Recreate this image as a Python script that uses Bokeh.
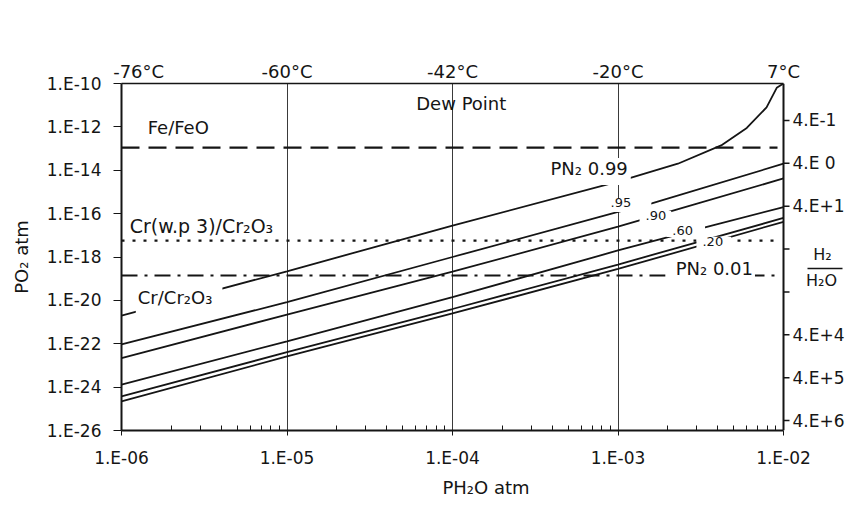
from bokeh.plotting import figure
from bokeh.models import FixedTicker, LogAxis, Range1d, Label, Span
from bokeh.core.properties import value
from bokeh.embed import file_html
from bokeh.resources import INLINE

# ---------------- data ----------------
x_ticks = [1e-6, 1e-5, 1e-4, 1e-3, 1e-2]
x_tick_labels = ["1.E-06", "1.E-05", "1.E-04", "1.E-03", "1.E-02"]
dew_point_labels = ["-76°C", "-60°C", "-42°C", "-20°C", "7°C"]
y_ticks = [1e-26, 1e-24, 1e-22, 1e-20, 1e-18, 1e-16, 1e-14, 1e-12, 1e-10]
y_tick_labels = ["1.E-26", "1.E-24", "1.E-22", "1.E-20", "1.E-18",
                 "1.E-16", "1.E-14", "1.E-12", "1.E-10"]
h2_h2o_ticks = [0.4, 4, 40, 400, 4000, 4e4, 4e5, 4e6]
h2_h2o_labels = ["4.E-1", "4.E 0", "4.E+1", "", "", "4.E+4", "4.E+5", "4.E+6"]

# PN2 iso-lines: PH2O (atm) vs PO2 (atm)
ph2o_099 = [1.0e-6, 1.0e-5, 1.0e-4, 1.0e-3, 2.3e-3, 4.2e-3, 6.0e-3, 7.9e-3, 9.1e-3, 1.0e-2]
po2_099 = [2.0e-21, 2.2e-19, 2.8e-17, 3.0e-15, 2.0e-14, 1.4e-13, 8.9e-13, 7.9e-12, 6.3e-11, 1.0e-10]
ph2o_095 = [1.0e-6, 1.0e-5, 1.0e-4, 1.0e-3, 1.6e-3, 1.0e-2]
po2_095 = [9.3e-23, 8.3e-21, 1.0e-18, 1.2e-16, 3.0e-16, 2.0e-14]
ph2o_090 = [1.0e-6, 1.0e-5, 1.0e-4, 1.0e-3, 2.1e-3, 1.0e-2]
po2_090 = [2.2e-23, 2.2e-21, 2.1e-19, 2.5e-17, 1.3e-16, 4.2e-15]
ph2o_060 = [1.0e-6, 1.0e-5, 1.0e-4, 1.0e-3, 3.4e-3, 1.0e-2]
po2_060 = [1.3e-24, 1.3e-22, 1.4e-20, 2.0e-18, 2.4e-17, 2.0e-16]
ph2o_020 = [1.0e-6, 1.0e-5, 1.0e-4, 1.0e-3, 1.0e-2]
po2_020 = [3.7e-25, 4.1e-23, 4.0e-21, 4.5e-19, 6.3e-17]
ph2o_001 = [1.0e-6, 1.0e-5, 1.0e-4, 1.0e-3, 1.0e-2]
po2_001 = [2.2e-25, 2.6e-23, 2.5e-21, 2.8e-19, 4.2e-17]

# metal / oxide equilibria (horizontal)
fe_feo_x = [1.0e-6, 9.2e-3]
fe_feo_po2 = 1.1e-13
cr_wp3_x = [1.0e-6, 9.6e-3]
cr_wp3_po2 = 5.7e-18
cr_cr2o3_x = [1.0e-6, 9.2e-3]
cr_cr2o3_po2 = 1.4e-19

INK = "#151515"
F1 = "DejaVu Sans"

X_MIN, X_MAX = 1e-6, 1e-2
PX_PER_DECADE = 662 / 4.0          # frame: 4 decades over 662 px
RIGHT_PANEL_PX = 67                # space kept right of the PH2O axis end
X_FRAME_END = X_MAX * 10 ** (RIGHT_PANEL_PX / PX_PER_DECADE)

p = figure(width=850, height=508, x_axis_type="log", y_axis_type="log",
           x_range=Range1d(X_MIN, X_FRAME_END), y_range=Range1d(1e-26, 1e-10),
           output_backend="svg", toolbar_location=None,
           min_border_left=121, min_border_right=0,
           min_border_top=83, min_border_bottom=78)
p.background_fill_color = "white"
p.border_fill_color = "white"
p.outline_line_color = None

# grid
p.ygrid.visible = False
p.xgrid.ticker = FixedTicker(ticks=[1e-5, 1e-4, 1e-3])
p.xgrid.grid_line_color = "#3a3a3a"
p.xgrid.grid_line_width = 1

# bottom axis
minor = [k * 10.0 ** e for e in range(-6, -2) for k in range(2, 10)]
xa = p.xaxis[0]
xa.bounds = (X_MIN, X_MAX)
xa.ticker = FixedTicker(ticks=x_ticks, minor_ticks=minor)
xa.major_label_overrides = dict(zip(x_ticks, x_tick_labels))
xa.axis_label = "PH₂O atm"
xa.axis_label_text_font = F1
xa.axis_label_text_font_size = "18px"
xa.axis_label_text_font_style = "normal"
xa.axis_label_text_color = INK
xa.axis_label_standoff = 6
xa.major_label_text_font = F1
xa.major_label_text_font_size = "17px"
xa.major_label_text_color = INK
xa.major_label_standoff = 12
xa.axis_line_width = 2
xa.axis_line_color = INK
xa.major_tick_in = 0
xa.major_tick_out = 5
xa.major_tick_line_color = INK
xa.minor_tick_in = 5
xa.minor_tick_out = 0
xa.minor_tick_line_color = INK

# left axis
ya = p.yaxis[0]
ya.ticker = FixedTicker(ticks=y_ticks, minor_ticks=[])
ya.major_label_overrides = dict(zip(y_ticks, y_tick_labels))
ya.axis_label = "PO₂ atm"
ya.axis_label_text_font = F1
ya.axis_label_text_font_size = "18px"
ya.axis_label_text_font_style = "normal"
ya.axis_label_text_color = INK
ya.axis_label_standoff = 12
ya.major_label_text_font = F1
ya.major_label_text_font_size = "17px"
ya.major_label_text_color = INK
ya.major_label_standoff = 12
ya.axis_line_width = 2
ya.axis_line_color = INK
ya.major_tick_in = 0
ya.major_tick_out = 8
ya.major_tick_line_color = INK
ya.minor_tick_line_color = None

# top axis: dew point (frame top edge)
NB = "\u00a0" * 6
top_labels = [NB + dew_point_labels[0]] + dew_point_labels[1:]
top = LogAxis(bounds=(X_MIN, X_MAX),
              ticker=FixedTicker(ticks=x_ticks, minor_ticks=[]),
              major_label_overrides=dict(zip(x_ticks, top_labels)))
top.major_label_text_font = F1
top.major_label_text_font_size = "18px"
top.major_label_text_color = INK
top.major_label_standoff = 2
top.major_tick_in = 0
top.major_tick_out = 0
top.axis_line_color = INK
top.axis_line_width = 1.5
top.minor_tick_line_color = None
p.add_layout(top, "above")

# right axis: H2/H2O ratio scale drawn at PH2O = 1E-02
p.extra_y_ranges = {"ratio": Range1d(start=6.84e6, end=0.0548)}
from bokeh.models import LogScale
p.extra_y_scales = {"ratio": LogScale()}
p.add_layout(Span(location=X_MAX, dimension="height", line_color=INK, line_width=2))
tick_end = X_MAX * 10 ** (6 / PX_PER_DECADE)
n = len(h2_h2o_ticks)
p.segment(x0=[X_MAX] * n, x1=[tick_end] * n, y0=h2_h2o_ticks, y1=h2_h2o_ticks,
          line_color=INK, line_width=1.5, y_range_name="ratio")
p.text(x=[X_MAX] * n, y=h2_h2o_ticks, text=h2_h2o_labels, x_offset=9,
       text_baseline="middle", text_align="left", text_font=value(F1),
       text_font_size="17px", text_color=INK, y_range_name="ratio")

# horizontal equilibrium lines
p.line(fe_feo_x, [fe_feo_po2] * 2, line_color=INK, line_width=2.2, line_dash="18 9")
p.line(cr_wp3_x, [cr_wp3_po2] * 2, line_color=INK, line_width=2.2, line_dash="3 8")
p.line(cr_cr2o3_x, [cr_cr2o3_po2] * 2, line_color=INK, line_width=1.8, line_dash="16 7 3 7")

# PN2 lines
for xs, ys in [(ph2o_099, po2_099), (ph2o_095, po2_095), (ph2o_090, po2_090),
               (ph2o_060, po2_060), (ph2o_020, po2_020), (ph2o_001, po2_001)]:
    p.line(xs, ys, line_color=INK, line_width=1.8)


def lab(text, x, y, size, align="left", pad=None):
    l = Label(x=x, y=y, text=text, text_font=F1, text_font_size=size,
              text_color=INK, text_align=align, text_baseline="middle")
    if pad is not None:
        l.background_fill_color = "white"
        l.background_fill_alpha = 1.0
        l.padding = dict(left=pad[0], right=pad[1], top=pad[2], bottom=pad[3])
    p.add_layout(l)
    return l


lab("Fe/FeO", 1.44e-6, 9.3e-13, "18px")
lab("Dew Point", 1.13e-4, 1.2e-11, "18px", align="center")
lab("Cr(w.p 3)/Cr₂O₃", 1.12e-6, 2.8e-17, "19px")
lab("Cr/Cr₂O₃", 1.22e-6, 1.0e-20, "18px", pad=(2, 10, 0, 6))
lab("PN₂ 0.99", 3.8e-4, 8.8e-15, "18px", pad=(2, 3, 0, 6))
lab(".95", 8.9e-4, 2.5e-16, "13px", pad=(1, 20, 0, 5))
lab(".90", 1.35e-3, 7.4e-17, "13px", pad=(6, 5, 0, 2))
lab(".60", 1.96e-3, 1.5e-17, "13px", pad=(6, 12, 0, 2))
lab(".20", 2.98e-3, 4.5e-18, "13px", pad=(6, 8, 0, 3))
lab("PN₂ 0.01", 1.94e-3, 2.95e-19, "18px", pad=(10, 2, 0, 0))

# H2 / H2O fraction beside the right scale
p.text(x=[X_MAX, X_MAX], y=[1.3e-18, 8.3e-20], text=["H₂", "H₂O"], x_offset=[39, 38],
       text_align="center", text_baseline="middle", text_font=value(F1),
       text_font_size="16px", text_color=INK)
bar_left = X_MAX * 10 ** (24 / PX_PER_DECADE)
bar_right = X_MAX * 10 ** (59 / PX_PER_DECADE)
p.segment(x0=[bar_left], x1=[bar_right], y0=[2.95e-19], y1=[2.95e-19],
          line_color=INK, line_width=1.5)

open("out.html", "w").write(file_html(p, INLINE))
